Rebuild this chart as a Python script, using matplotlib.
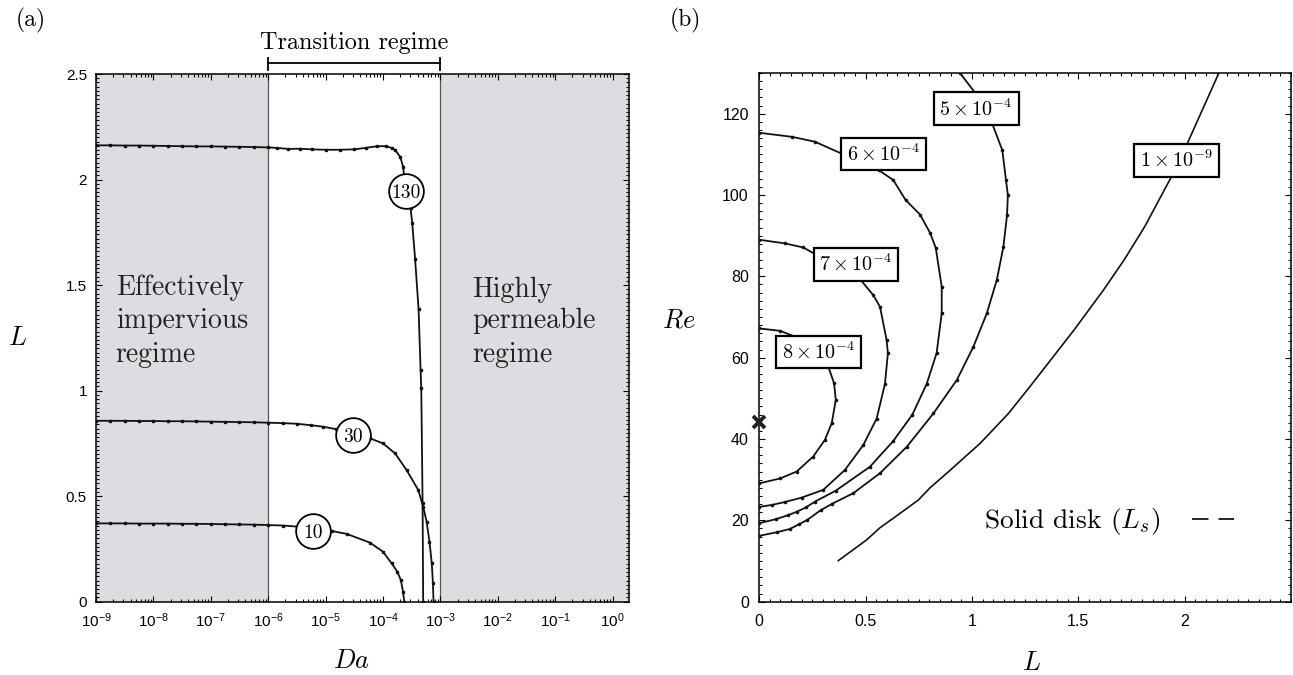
import numpy as np
import matplotlib
matplotlib.use("Agg")
import matplotlib.pyplot as plt
import matplotlib.transforms as mtransforms
from matplotlib.lines import Line2D
from matplotlib.ticker import (MultipleLocator, FixedLocator, LogLocator,
                               NullFormatter, FuncFormatter)

plt.rcParams['font.family'] = ['Liberation Sans', 'DejaVu Sans']
plt.rcParams['mathtext.fontset'] = 'cm'
plt.rcParams['axes.linewidth'] = 1.1

SERIF = 'cmr10'

# ---------------- panel (a): L versus Da for three Re ----------------
log10_da_re130 = [-9, -8.75, -8.5, -8.25, -8, -7.75, -7.5, -7.25, -7, -6.75, -6.5,
                  -6.25, -6, -5.85, -5.65, -5.45, -5.24, -5.0, -4.75, -4.5, -4.3,
                  -4.1, -3.95, -3.85, -3.79, -3.70, -3.65, -3.605, -3.52, -3.49,
                  -3.44, -3.38, -3.345, -3.333, -3.31, -3.30]
L_re130 = [2.162, 2.162, 2.161, 2.161, 2.160, 2.159, 2.158, 2.157, 2.157, 2.156, 2.155,
           2.154, 2.152, 2.150, 2.145, 2.146, 2.143, 2.141, 2.141, 2.143, 2.150,
           2.158, 2.158, 2.150, 2.140, 2.108, 2.061, 1.946, 1.864, 1.793,
           1.622, 1.385, 1.098, 1.011, 0.466, 0.0]

log10_da_re30 = [-9, -8.75, -8.5, -8.25, -8, -7.75, -7.5, -7.25, -7, -6.75, -6.5,
                 -6.25, -6, -5.75, -5.5, -5.25, -5.04, -4.81, -4.52, -4.227, -4.0,
                 -3.79, -3.59, -3.385, -3.30, -3.24, -3.19, -3.15, -3.13, -3.12]
L_re30 = [0.857, 0.857, 0.857, 0.856, 0.856, 0.855, 0.855, 0.854, 0.853, 0.852, 0.851,
          0.850, 0.848, 0.846, 0.843, 0.836, 0.829, 0.817, 0.790, 0.774, 0.750,
          0.703, 0.624, 0.529, 0.450, 0.379, 0.284, 0.182, 0.087, 0.0]

log10_da_re10 = [-9, -8.75, -8.5, -8.25, -8, -7.75, -7.5, -7.25, -7, -6.75, -6.5,
                 -6.25, -6, -5.75, -5.5, -5.22, -4.89, -4.63, -4.23, -4.0, -3.85,
                 -3.75, -3.69, -3.65, -3.63]
L_re10 = [0.371, 0.371, 0.371, 0.370, 0.370, 0.370, 0.369, 0.369, 0.368, 0.367, 0.366,
          0.365, 0.363, 0.361, 0.356, 0.340, 0.335, 0.321, 0.280, 0.237, 0.182,
          0.142, 0.103, 0.047, 0.0]

re_labels = ['130', '30', '10']

# ---------------- panel (b): Re versus L for several Da ----------------
L_da8e4 = [0.0, 0.098, 0.168, 0.325, 0.352, 0.360, 0.341, 0.309, 0.254, 0.176, 0.098, 0.0]
Re_da8e4 = [67.2, 66.6, 65.2, 57.8, 53.7, 49.6, 43.9, 39.8, 35.7, 32.0, 30.3, 29.1]

L_da7e4 = [0.0, 0.121, 0.207, 0.474, 0.536, 0.568, 0.599, 0.605, 0.591, 0.552, 0.489,
           0.403, 0.301, 0.20, 0.12, 0.06, 0.0]
Re_da7e4 = [89.0, 88.1, 87.1, 79.3, 75.4, 72.5, 64.3, 61.1, 53.5, 45.0, 38.5,
            32.4, 27.5, 25.6, 24.5, 23.8, 23.3]

L_da6e4 = [0.0, 0.155, 0.262, 0.562, 0.630, 0.688, 0.756, 0.804, 0.830, 0.858, 0.858,
           0.834, 0.787, 0.720, 0.630, 0.521, 0.360, 0.262, 0.220, 0.176, 0.137,
           0.079, 0.0]
Re_da6e4 = [115.3, 114.3, 113.1, 106.1, 103.7, 98.8, 95.2, 90.6, 87.0, 77.5, 70.9,
            61.1, 53.5, 46.0, 39.5, 33.2, 27.3, 24.6, 23.2, 22.1, 21.3,
            20.3, 19.3]

L_da5e4 = [0.944, 1.017, 1.095, 1.143, 1.160, 1.169, 1.165, 1.148, 1.117, 1.070, 1.007,
           0.929, 0.819, 0.694, 0.568, 0.443, 0.340, 0.289, 0.226, 0.189, 0.145,
           0.085, 0.0]
Re_da5e4 = [130.0, 125.0, 117.6, 111.0, 103.7, 100.0, 95.0, 87.3, 79.1, 70.9, 62.7,
            54.5, 46.3, 38.1, 31.6, 26.7, 24.0, 22.5, 20.1, 19.1, 17.9,
            17.1, 16.2]

L_da1e9 = [0.372, 0.505, 0.568, 0.630, 0.748, 0.803, 0.882, 1.038, 1.172, 1.273, 1.480,
           1.618, 1.715, 1.812, 1.938, 2.006, 2.083, 2.161]
Re_da1e9 = [10.1, 15.2, 18.2, 20.5, 25.0, 28.0, 31.6, 38.9, 46.3, 52.9, 66.8,
            76.6, 84.0, 92.2, 104.5, 111.9, 120.9, 130.0]

da_labels = [r'$5\times10^{-4}$', r'$6\times10^{-4}$', r'$7\times10^{-4}$',
             r'$8\times10^{-4}$', r'$1\times10^{-9}$']

cross_L = [0.0]
cross_Re = [44.3]

# ======================================================================
fig = plt.figure(figsize=(12.93, 6.75), dpi=100)
W, H = 1293.0, 675.0
axA = fig.add_axes([96 / W, 1 - 601.7 / H, (629 - 96) / W, (601.7 - 74) / H])
axB = fig.add_axes([759.2 / W, 1 - 601.7 / H, (1291 - 759.2) / W, (601.7 - 73) / H])

# ---------------- panel (a) ----------------
xmax = 10 ** 0.286
axA.set_xscale('log')
axA.set_xlim(1e-9, xmax)
axA.set_ylim(0, 2.5)
shade = '#dcdde0'
axA.axvspan(1e-9, 1e-6, color=shade, lw=0, zorder=0)
axA.axvspan(1e-3, xmax, color=shade, lw=0, zorder=0)
for xv in (1e-6, 1e-3):
    axA.axvline(xv, color='#555555', lw=0.9, zorder=1)

curves_a = [(log10_da_re130, L_re130), (log10_da_re30, L_re30), (log10_da_re10, L_re10)]
for lg, Ls in curves_a:
    axA.plot(np.power(10.0, lg), Ls, '-', color='#111111', lw=1.3,
             marker='s', ms=2.0, zorder=3)

# circled Re labels, placed on the curves
label_pos_a = [(10 ** -3.605, 1.946), (10 ** -4.52, 0.790), (10 ** -5.22, 0.337)]
for (xv, yv), txt in zip(label_pos_a, re_labels):
    axA.plot([xv], [yv], 'o', ms=25, mfc='white', mec='black', mew=1.3, zorder=4)
    axA.text(xv, yv, txt, fontfamily=SERIF, fontsize=14, ha='center',
             va='center_baseline', zorder=5)

axA.xaxis.set_major_locator(LogLocator(base=10, numticks=20))
axA.xaxis.set_minor_locator(LogLocator(base=10, subs=np.arange(2, 10), numticks=20))
axA.xaxis.set_minor_formatter(NullFormatter())
axA.yaxis.set_major_locator(MultipleLocator(0.5))
axA.yaxis.set_minor_locator(MultipleLocator(0.02))
axA.yaxis.set_major_formatter(FuncFormatter(lambda v, p: f'{v:g}'))
axA.tick_params(which='both', direction='in', top=True, right=True, width=0.8)
axA.tick_params(which='major', length=4.5, labelsize=11)
axA.tick_params(axis='x', which='major', pad=7)
axA.tick_params(axis='y', which='major', pad=6.5)
axA.tick_params(which='minor', length=2.2)

# transition bracket
trA = mtransforms.blended_transform_factory(axA.transData, axA.transAxes)
axA.plot([1e-6, 1e-3], [1.0203, 1.0203], transform=trA, color='k', lw=1.3, clip_on=False)
for xv in (1e-6, 1e-3):
    axA.plot([xv, xv], [1.0075, 1.031], transform=trA, color='k', lw=1.3, clip_on=False)
axA.text(10 ** -4.5, 1.059, 'Transition regime', transform=trA, ha='center',
         va='center', fontfamily=SERIF, fontsize=17.5)

# regime texts
for txt, yb in zip(['Effectively', 'impervious', 'regime'], [0.581, 0.518, 0.455]):
    axA.text(0.037, yb, txt, transform=axA.transAxes, ha='left', va='baseline',
             fontfamily=SERIF, fontsize=20, color='#222222')
for txt, yb in zip(['Highly', 'permeable', 'regime'], [0.578, 0.518, 0.455]):
    axA.text(0.705, yb, txt, transform=axA.transAxes, ha='left', va='baseline',
             fontfamily=SERIF, fontsize=20, color='#222222')

axA.set_xlabel(r'$Da$', fontsize=19, va='center')
axA.xaxis.set_label_coords((352 - 96) / 533, (601.7 - 661) / 527.7)
axA.set_ylabel(r'$L$', fontsize=19, rotation=0, va='center', ha='center')
axA.yaxis.set_label_coords((18 - 96) / 533, 0.5)

# ---------------- panel (b) ----------------
axB.set_xlim(0, 2.5)
axB.set_ylim(0, 130)
curves_b = [(L_da5e4, Re_da5e4), (L_da6e4, Re_da6e4), (L_da7e4, Re_da7e4),
            (L_da8e4, Re_da8e4)]
for Ls, Res in curves_b:
    axB.plot(Ls, Res, '-', color='#111111', lw=1.3, marker='o', ms=1.6, zorder=3)
axB.plot(L_da1e9, Re_da1e9, '-', color='#111111', lw=1.2, zorder=3)

label_pos_b = [(1.02, 121.2), (0.585, 110.1), (0.455, 82.9), (0.278, 61.4), (1.963, 108.5)]
for (xv, yv), txt in zip(label_pos_b, da_labels):
    axB.text(xv, yv, txt, fontsize=14.5, ha='center', va='center', zorder=5,
             bbox=dict(boxstyle='square,pad=0.28', fc='white', ec='black', lw=1.6))

axB.plot(cross_L, cross_Re, linestyle='none', marker='x', ms=8.5, mew=2.8,
         color='#222222', clip_on=False, zorder=6)

handle = Line2D([], [], color='black', lw=1.2, linestyle=(0, (9.9, 6.0)))
axB.legend([handle], [r'Solid disk ($L_s$)'], loc='center left',
           bbox_to_anchor=(0.4225, 0.151), frameon=False, markerfirst=False,
           handlelength=1.55, handletextpad=1.15, borderpad=0, borderaxespad=0,
           prop={'family': SERIF, 'size': 19.8})

axB.xaxis.set_major_locator(FixedLocator([0, 0.5, 1, 1.5, 2]))
axB.xaxis.set_minor_locator(MultipleLocator(0.05))
axB.yaxis.set_major_locator(MultipleLocator(20))
axB.yaxis.set_minor_locator(MultipleLocator(2))
axB.xaxis.set_major_formatter(FuncFormatter(lambda v, p: f'{v:g}'))
axB.yaxis.set_major_formatter(FuncFormatter(lambda v, p: f'{v:g}'))
axB.tick_params(which='both', direction='in', top=True, right=True, width=0.8)
axB.tick_params(which='major', length=4.5, labelsize=11.5)
axB.tick_params(axis='x', which='major', pad=8.5)
axB.tick_params(axis='y', which='major', pad=7.5)
axB.tick_params(which='minor', length=2.2)

axB.set_xlabel(r'$L$', fontsize=19, va='center')
axB.xaxis.set_label_coords((1031 - 759.2) / 531.8, (601.7 - 663) / 528.7)
axB.set_ylabel(r'$Re$', fontsize=19, rotation=0, va='center', ha='center')
axB.yaxis.set_label_coords((679 - 759.2) / 531.8, (601.7 - 320) / 528.7)

fig.text(31 / W, 1 - 20 / H, '(a)', fontfamily=SERIF, fontsize=17, ha='center', va='center')
fig.text(685 / W, 1 - 20 / H, '(b)', fontfamily=SERIF, fontsize=17, ha='center', va='center')

fig.savefig('out.png', dpi=100)
